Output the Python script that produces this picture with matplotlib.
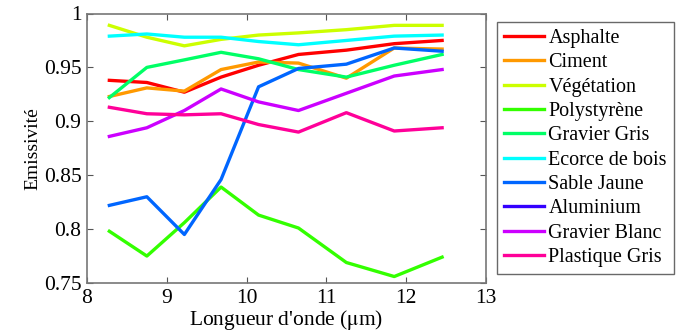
import matplotlib
matplotlib.use("Agg")
import matplotlib.pyplot as plt
import numpy as np
from matplotlib.ticker import FuncFormatter

plt.rcParams['font.family'] = ['Liberation Serif', 'DejaVu Serif']
plt.rcParams['mathtext.fontset'] = 'stix'

wavelength = [8.28, 8.75, 9.22, 9.68, 10.15, 10.65, 11.25, 11.85, 12.45]

names = ['Asphalte', 'Ciment', 'Végétation', 'Polystyrène', 'Gravier Gris',
         'Ecorce de bois', 'Sable Jaune', 'Aluminium', 'Gravier Blanc',
         'Plastique Gris']

asphalte = [0.938, 0.936, 0.927, 0.941, 0.952, 0.962, 0.966, 0.972, 0.975]
ciment = [0.923, 0.931, 0.928, 0.948, 0.955, 0.954, 0.940, 0.968, 0.967]
vegetation = [0.989, 0.978, 0.970, 0.976, 0.980, 0.982, 0.985, 0.989, 0.989]
polystyrene = [0.798, 0.775, 0.806, 0.839, 0.813, 0.801, 0.769, 0.756, 0.774]
gravier_gris = [0.922, 0.950, 0.957, 0.964, 0.958, 0.948, 0.941, 0.952, 0.962]
ecorce = [0.979, 0.981, 0.978, 0.978, 0.974, 0.971, 0.975, 0.979, 0.980]
sable = [0.822, 0.830, 0.795, 0.846, 0.932, 0.949, 0.953, 0.968, 0.965]
aluminium = [0.10, 0.09, 0.08, 0.09, 0.08, 0.07, 0.07, 0.06, 0.06]
gravier_blanc = [0.886, 0.894, 0.910, 0.930, 0.918, 0.910, 0.926, 0.942, 0.948]
plastique = [0.913, 0.907, 0.906, 0.907, 0.897, 0.890, 0.908, 0.891, 0.894]

series = [asphalte, ciment, vegetation, polystyrene, gravier_gris, ecorce,
          sable, aluminium, gravier_blanc, plastique]

# couleurs type hsv(10) de matlab
colors = ['#FF0000', '#FF9900', '#CCFF00', '#33FF00', '#00FF66',
          '#00FFFF', '#0066FF', '#3300FF', '#CC00FF', '#FF0099']

fig = plt.figure(figsize=(6.91, 3.31), dpi=100)
ax = fig.add_axes([87/691, 1-283/331, (486-87)/691, (283-13.5)/331])

for vals, name, c in zip(series, names, colors):
    ax.plot(wavelength, vals, color=c, lw=2.4, label=name)

ax.set_xlim(8, 13)
ax.set_ylim(0.75, 1)
ax.set_xticks(np.arange(8, 14, 1))
ax.set_yticks([0.75, 0.8, 0.85, 0.9, 0.95, 1])
ax.yaxis.set_major_formatter(FuncFormatter(lambda v, p: '%g' % round(v, 2)))
ax.tick_params(direction='in', top=True, right=True, labelsize=15.5,
               length=4, color='#555555')
ax.tick_params(axis='x', pad=4)
ax.tick_params(axis='y', pad=4)
for s in ax.spines.values():
    s.set_color('#777777')
    s.set_linewidth(1.2)

ax.set_xlabel("Longueur d'onde ($\\mathrm{\\mu}$m)", fontsize=15.5, labelpad=0)
ax.set_ylabel('Emissivité', fontsize=14, labelpad=2)

leg = fig.legend(loc='upper left', bbox_to_anchor=(497/691, 1-22/331),
                 fontsize=14.5, frameon=True, fancybox=False,
                 handlelength=2.0, handletextpad=0.2, borderaxespad=0,
                 labelspacing=0.26, borderpad=0.35)
leg.get_frame().set_edgecolor('#444444')
leg.get_frame().set_linewidth(1.0)

fig.savefig('out.png', dpi=100)
